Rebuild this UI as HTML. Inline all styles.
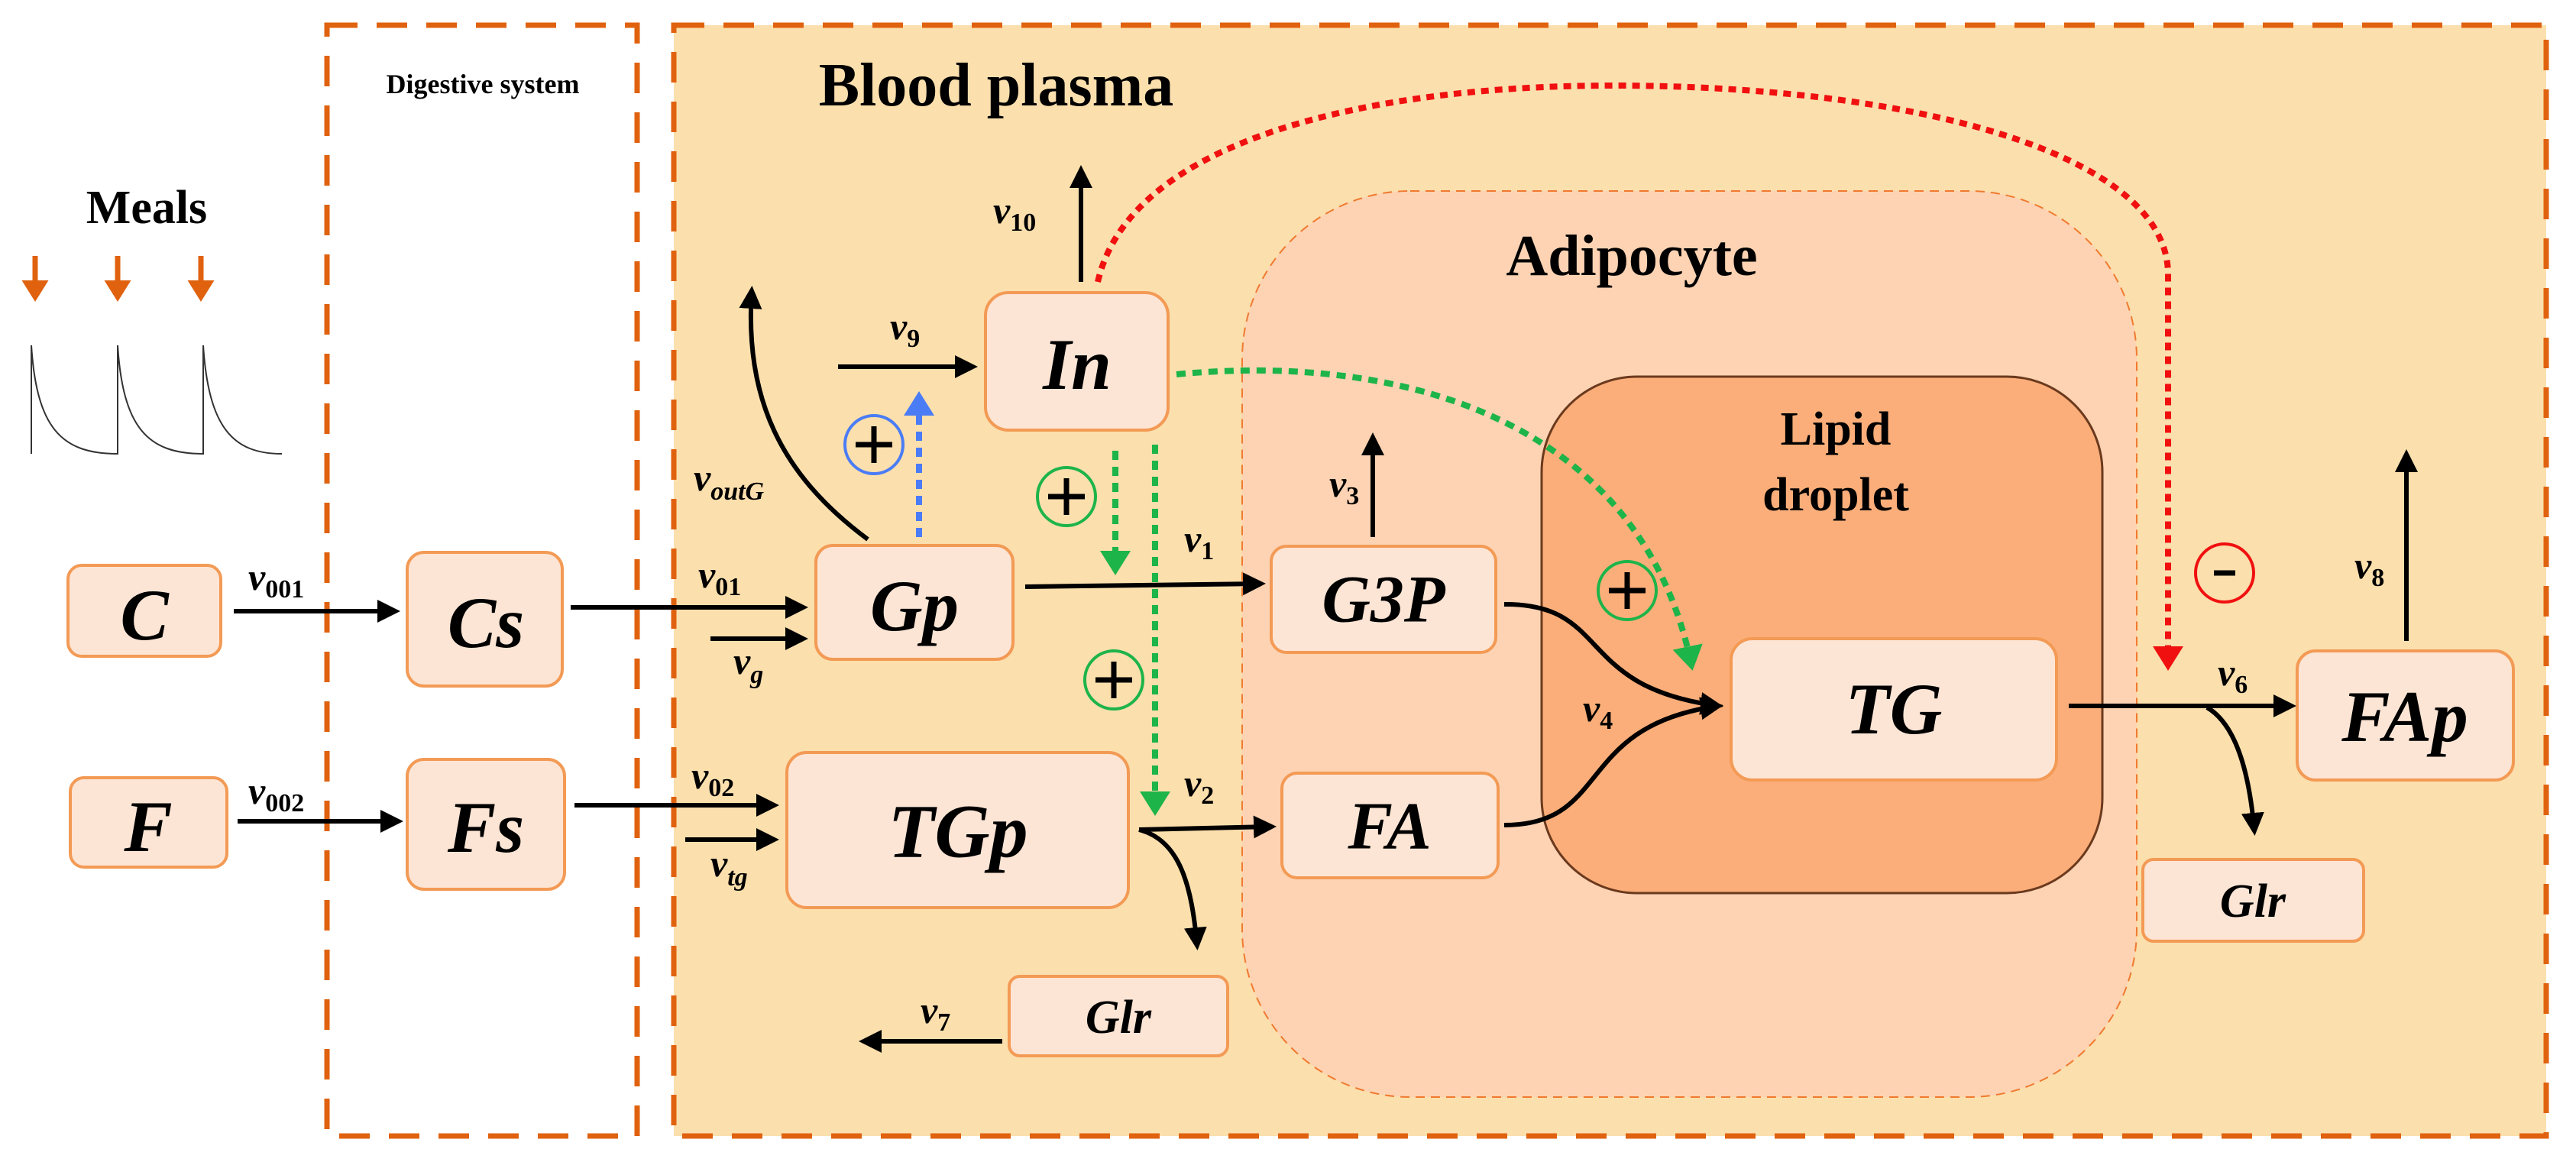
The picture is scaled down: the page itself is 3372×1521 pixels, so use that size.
<!DOCTYPE html>
<html><head><meta charset="utf-8"><style>
html,body{margin:0;padding:0;background:#fff;}
svg{display:block;}
text{font-family:"Liberation Serif",serif;font-weight:bold;}
.bx{fill:#fde5d5;stroke:#f39a55;stroke-width:4;}
.lb{font-style:italic;text-anchor:middle;dominant-baseline:central;}
.v{font-style:italic;font-size:50px;}
.s{font-style:normal;font-size:34px;}
.si{font-style:italic;font-size:34px;}
.ar{stroke:#000;stroke-width:6;fill:none;}
</style></head><body>
<svg width="3372" height="1521" viewBox="0 0 3372 1521" xmlns="http://www.w3.org/2000/svg">
<defs>
<marker id="ak" markerWidth="6" markerHeight="6" refX="4" refY="3" orient="auto" markerUnits="strokeWidth"><path d="M0,0.5 L5,3 L0,5.5 Z" fill="#000"/></marker>
<marker id="ab" markerWidth="5" markerHeight="5" refX="3" refY="2.5" orient="auto" markerUnits="strokeWidth"><path d="M0,0 L4,2.5 L0,5 Z" fill="#4a7cf5"/></marker>
<marker id="ag" markerWidth="5" markerHeight="5" refX="3" refY="2.5" orient="auto" markerUnits="strokeWidth"><path d="M0,0 L4,2.5 L0,5 Z" fill="#1db44a"/></marker>
<marker id="ar" markerWidth="5" markerHeight="5" refX="3" refY="2.5" orient="auto" markerUnits="strokeWidth"><path d="M0,0 L4,2.5 L0,5 Z" fill="#f01010"/></marker>
<marker id="ao" markerWidth="5" markerHeight="5" refX="3" refY="2.5" orient="auto" markerUnits="strokeWidth"><path d="M0,0 L4,2.5 L0,5 Z" fill="#e0620f"/></marker>
</defs>
<rect width="3372" height="1521" fill="#fff"/>
<rect x="428" y="33" width="406" height="1454" fill="none" stroke="#e0620f" stroke-width="7" stroke-dasharray="40,25"/>
<text x="632" y="122" font-size="36" text-anchor="middle">Digestive system</text>
<rect x="882" y="33" width="2451" height="1454" fill="#fbdfad" stroke="#e0620f" stroke-width="7" stroke-dasharray="40,25"/>
<text x="1304" y="138" font-size="80" text-anchor="middle">Blood plasma</text>
<rect x="1626" y="250" width="1171" height="1186" rx="220" fill="#fdd3b3" stroke="#f07a30" stroke-width="2" stroke-dasharray="12,8"/>
<text x="2136" y="360" font-size="76" text-anchor="middle">Adipocyte</text>
<rect x="2018" y="493" width="734" height="676" rx="125" fill="#fbae79" stroke="#6b3a1e" stroke-width="3"/>
<text x="2403" y="582" font-size="62" text-anchor="middle">Lipid</text>
<text x="2403" y="668" font-size="62" text-anchor="middle">droplet</text>
<text x="192" y="292" font-size="62" text-anchor="middle">Meals</text>
<g stroke="#e0620f" stroke-width="7" marker-end="url(#ao)">
<line x1="46" y1="335" x2="46" y2="388"/><line x1="154" y1="335" x2="154" y2="388"/><line x1="263" y1="335" x2="263" y2="388"/>
</g>
<path d="M41,594 L41,452 C48,560 80,594 154,594 L154,452 C161,560 193,594 266,594 L266,452 C273,560 305,594 369,594" fill="none" stroke="#333" stroke-width="2"/>
<rect class="bx" x="89" y="740" width="200" height="119" rx="18"/><text class="lb" x="189" y="805" font-size="95">C</text>
<rect class="bx" x="92" y="1018" width="205" height="117" rx="18"/><text class="lb" x="194" y="1082" font-size="95">F</text>
<rect class="bx" x="533" y="723" width="203" height="175" rx="22"/><text class="lb" x="636" y="815" font-size="95">Cs</text>
<rect class="bx" x="533" y="994" width="206" height="170" rx="22"/><text class="lb" x="636" y="1083" font-size="95">Fs</text>
<rect class="bx" x="1068" y="714" width="258" height="149" rx="22"/><text class="lb" x="1197" y="793" font-size="95">Gp</text>
<rect class="bx" x="1030" y="985" width="447" height="203" rx="26"/><text class="lb" x="1254" y="1088" font-size="100">TGp</text>
<rect class="bx" x="1290" y="383" width="239" height="180" rx="30"/><text class="lb" x="1410" y="477" font-size="95">In</text>
<rect class="bx" x="1321" y="1278" width="286" height="104" rx="14"/><text class="lb" x="1464" y="1332" font-size="62">Glr</text>
<rect class="bx" x="1664" y="715" width="294" height="139" rx="20"/><text class="lb" x="1811" y="785" font-size="88">G3P</text>
<rect class="bx" x="1678" y="1012" width="283" height="137" rx="20"/><text class="lb" x="1819" y="1082" font-size="88">FA</text>
<rect class="bx" x="2266" y="836" width="426" height="185" rx="28"/><text class="lb" x="2479" y="928" font-size="95">TG</text>
<rect class="bx" x="2805" y="1125" width="289" height="107" rx="14"/><text class="lb" x="2949" y="1180" font-size="62">Glr</text>
<rect class="bx" x="3007" y="852" width="283" height="169" rx="24"/><text class="lb" x="3148" y="938" font-size="95">FAp</text>
<g class="ar" marker-end="url(#ak)" stroke="#000" stroke-width="6" fill="none">
<line x1="306" y1="800" x2="518" y2="800"/>
<line x1="311" y1="1075" x2="522" y2="1075"/>
<line x1="747" y1="795" x2="1052" y2="795"/>
<line x1="930" y1="836" x2="1052" y2="836"/>
<line x1="752" y1="1054" x2="1014" y2="1054"/>
<line x1="897" y1="1099" x2="1014" y2="1099"/>
<line x1="1097" y1="480" x2="1274" y2="480"/>
<line x1="1415" y1="369" x2="1415" y2="222"/>
<path d="M1136,706 C1020,620 975,520 984,380"/>
<path d="M1342,768 L1651,764"/>
<path d="M1491,1086 L1665,1082"/>
<path d="M1491,1086 C1545,1100 1560,1160 1567,1238"/>
<line x1="1312" y1="1363" x2="1130" y2="1363"/>
<line x1="1797" y1="703" x2="1797" y2="572"/>
<path d="M1969,791 C2110,790 2060,900 2250,924"/>
<path d="M1969,1080 C2110,1080 2060,950 2250,924"/>
<line x1="2708" y1="924" x2="3000" y2="924"/>
<path d="M2889,926 C2930,950 2945,1020 2951,1088"/>
<line x1="3150" y1="839" x2="3150" y2="594"/>
</g>
<line x1="1203" y1="703" x2="1203" y2="520" stroke="#4a7cf5" stroke-width="8" stroke-dasharray="12,9" marker-end="url(#ab)"/>
<line x1="1460" y1="590" x2="1460" y2="745" stroke="#1db44a" stroke-width="8" stroke-dasharray="12,9" marker-end="url(#ag)"/>
<line x1="1512" y1="582" x2="1512" y2="1060" stroke="#1db44a" stroke-width="8" stroke-dasharray="12,9" marker-end="url(#ag)"/>
<path d="M1540,490 C1850,460 2150,560 2214,870" fill="none" stroke="#1db44a" stroke-width="8" stroke-dasharray="12,9" marker-end="url(#ag)"/>
<path d="M1437,369 C1480,180 1800,112 2112,112 C2500,112 2838,200 2838,359 L2838,870" fill="none" stroke="#f01010" stroke-width="8" stroke-dasharray="10,8" marker-end="url(#ar)"/>
<g fill="none" stroke-width="4">
<circle cx="1144" cy="582" r="38" stroke="#4a7cf5"/>
<circle cx="1396" cy="650" r="38" stroke="#1db44a"/>
<circle cx="1458" cy="890" r="38" stroke="#1db44a"/>
<circle cx="2130" cy="773" r="38" stroke="#1db44a"/>
<circle cx="2912" cy="750" r="38" stroke="#f01010"/>
</g>
<g stroke="#000" stroke-width="7">
<path d="M1120,582 h48 M1144,558 v48"/>
<path d="M1372,650 h48 M1396,626 v48"/>
<path d="M1434,890 h48 M1458,866 v48"/>
<path d="M2106,773 h48 M2130,749 v48"/>
<path d="M2898,750 h28"/>
</g>
<text class="v" x="325" y="772">v<tspan class="s" dy="10">001</tspan></text>
<text class="v" x="325" y="1052">v<tspan class="s" dy="10">002</tspan></text>
<text class="v" x="914" y="769">v<tspan class="s" dy="10">01</tspan></text>
<text class="v" x="960" y="882">v<tspan class="si" dy="12">g</tspan></text>
<text class="v" x="905" y="1032">v<tspan class="s" dy="10">02</tspan></text>
<text class="v" x="930" y="1147">v<tspan class="si" dy="12">tg</tspan></text>
<text class="v" x="908" y="642">v<tspan class="si" dy="12">outG</tspan></text>
<text class="v" x="1300" y="292">v<tspan class="s" dy="10">10</tspan></text>
<text class="v" x="1165" y="444">v<tspan class="s" dy="10">9</tspan></text>
<text class="v" x="1550" y="722">v<tspan class="s" dy="10">1</tspan></text>
<text class="v" x="1550" y="1042">v<tspan class="s" dy="10">2</tspan></text>
<text class="v" x="1205" y="1339">v<tspan class="s" dy="10">7</tspan></text>
<text class="v" x="1740" y="650">v<tspan class="s" dy="10">3</tspan></text>
<text class="v" x="2072" y="944">v<tspan class="s" dy="10">4</tspan></text>
<text class="v" x="2903" y="897">v<tspan class="s" dy="10">6</tspan></text>
<text class="v" x="3082" y="757">v<tspan class="s" dy="10">8</tspan></text>
</svg>
</body></html>
